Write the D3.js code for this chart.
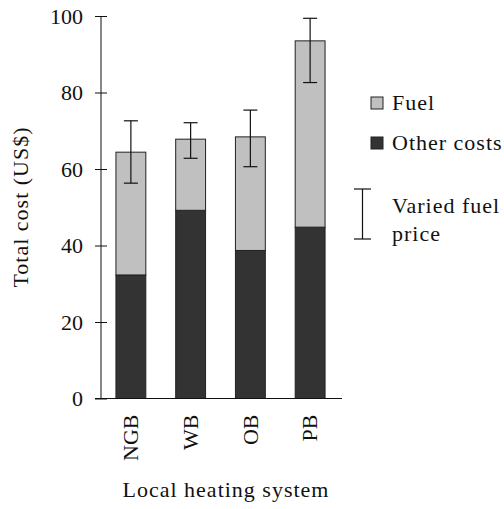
<!DOCTYPE html>
<html><head><meta charset="utf-8">
<script src="https://cdn.jsdelivr.net/npm/d3@7"></script>
<style>
html,body{margin:0;padding:0;background:#fff;}
</style></head>
<body><svg id="c" width="504" height="509"></svg>
<script>
const categories = ["NGB","WB","OB","PB"];
const otherCosts = [32.3, 49.2, 38.7, 44.8];
const fuelCosts = [32.1, 18.6, 29.7, 48.7];
const errLow = [56.3, 62.8, 60.6, 82.6];
const errHigh = [72.6, 72.1, 75.4, 99.4];
const yTicks = [0,20,40,60,80,100];
const seriesNames = ["Fuel","Other costs"];
const seriesColors = ["#c0c0c0","#333333"];

const FONT = '"Liberation Serif"';
const svg = d3.select("#c");
const x = d3.scaleBand().domain(categories).range([101,340]).paddingInner(0.5).paddingOuter(0.25);
const y = d3.scaleLinear().domain([0,100]).range([398.5,16]);

const data = categories.map((c,i)=>({cat:c, other:otherCosts[i], fuel:fuelCosts[i]}));
const stack = d3.stack().keys(["other","fuel"])(data);
const colorOf = {other:seriesColors[1], fuel:seriesColors[0]};

svg.append("g").selectAll("g").data(stack).join("g")
  .attr("fill", d=>colorOf[d.key])
  .selectAll("rect").data(d=>d).join("rect")
  .attr("x", d=>x(d.data.cat)).attr("width", x.bandwidth())
  .attr("y", d=>y(d[1])).attr("height", d=>y(d[0])-y(d[1]))
  .attr("stroke","#222").attr("stroke-width",1);

// error bars
const eb = svg.append("g").attr("stroke","#111").attr("stroke-width",1.2);
categories.forEach((c,i)=>{
  const cx = x(c)+x.bandwidth()/2;
  eb.append("line").attr("x1",cx).attr("x2",cx).attr("y1",y(errLow[i])).attr("y2",y(errHigh[i]));
  eb.append("line").attr("x1",cx-7).attr("x2",cx+7).attr("y1",y(errLow[i])).attr("y2",y(errLow[i]));
  eb.append("line").attr("x1",cx-7).attr("x2",cx+7).attr("y1",y(errHigh[i])).attr("y2",y(errHigh[i]));
});

function styleText(sel){
  sel.style("font-family",FONT).style("font-size","22px").style("fill","#111");
}

// y axis
const ya = svg.append("g").attr("transform","translate(101,0)")
  .call(d3.axisLeft(y).tickValues(yTicks).tickSize(6).tickPadding(12));
ya.select(".domain").remove();
ya.selectAll(".tick line").attr("x1",-6).attr("x2",6).attr("stroke","#111");
ya.selectAll(".tick text").call(styleText);
svg.append("line").attr("x1",101).attr("x2",101).attr("y1",y(100)).attr("y2",y(0)).attr("stroke","#111");

// x axis
const xa = svg.append("g").attr("transform","translate(0,398.5)")
  .call(d3.axisBottom(x).tickSize(0));
xa.select(".domain").remove();
xa.selectAll(".tick text").call(styleText)
  .attr("transform","rotate(-90)").attr("text-anchor","end").attr("x",-16).attr("y",0).attr("dy","0.33em");
svg.append("line").attr("x1",95).attr("x2",342).attr("y1",398.5).attr("y2",398.5).attr("stroke","#111");

// axis titles
svg.append("text").attr("transform","translate(28,207) rotate(-90)").attr("text-anchor","middle")
  .call(styleText).style("letter-spacing","1px").text("Total cost (US$)");
svg.append("text").attr("x",226).attr("y",497).attr("text-anchor","middle")
  .call(styleText).style("letter-spacing","1px").text("Local heating system");

// legend
const leg = svg.append("g");
seriesNames.forEach((n,i)=>{
  const yy = 97 + i*40;
  leg.append("rect").attr("x",371).attr("y",yy).attr("width",12).attr("height",12)
    .attr("fill",seriesColors[i]).attr("stroke","#222");
  leg.append("text").attr("x",392).attr("y",yy+13).call(styleText).style("letter-spacing","1px").text(n);
});
const lg = leg.append("g").attr("stroke","#111").attr("stroke-width",1.2);
lg.append("line").attr("x1",362.5).attr("x2",362.5).attr("y1",189).attr("y2",239);
lg.append("line").attr("x1",354).attr("x2",371).attr("y1",189).attr("y2",189);
lg.append("line").attr("x1",354).attr("x2",371).attr("y1",239).attr("y2",239);
leg.append("text").attr("x",392).attr("y",213).call(styleText).style("letter-spacing","1px").text("Varied fuel");
leg.append("text").attr("x",392).attr("y",241).call(styleText).style("letter-spacing","1px").text("price");
</script></body></html>
